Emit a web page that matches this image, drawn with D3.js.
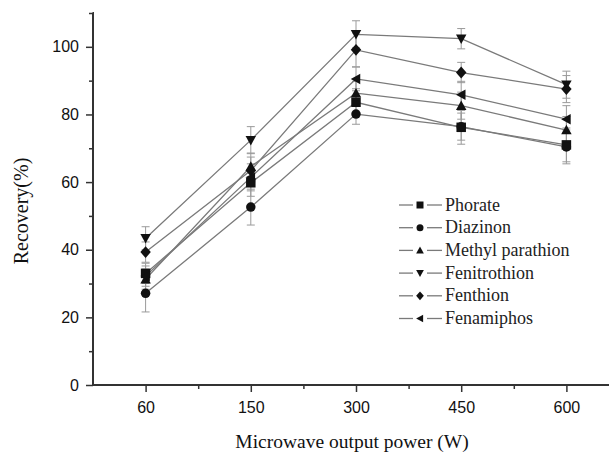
<!DOCTYPE html>
<html><head><meta charset="utf-8">
<script src="https://cdn.jsdelivr.net/npm/d3@7"></script>
<style>body{margin:0;background:#fff;} svg{display:block;}</style>
</head><body>
<svg id="c" width="609" height="452"></svg>
<script>
const categories = ["60", "150", "300", "450", "600"];
const seriesNames = ["Phorate", "Diazinon", "Methyl parathion", "Fenitrothion", "Fenthion", "Fenamiphos"];
const phorate = [33.0, 59.8, 83.6, 76.2, 71.0];
const diazinon = [27.1, 52.6, 80.1, 76.4, 70.4];
const methylParathion = [31.3, 64.6, 86.3, 82.6, 75.4];
const fenitrothion = [43.4, 72.4, 103.7, 102.4, 88.8];
const fenthion = [39.3, 63.4, 99.1, 92.4, 87.5];
const fenamiphos = [32.2, 61.4, 90.5, 85.8, 78.6];
const phorateErr = [3, 4, 4, 5, 5];
const diazinonErr = [5.5, 5.3, 3, 4, 5];
const methylParathionErr = [3, 4, 3.5, 4, 4];
const fenitrothionErr = [3.4, 4, 4, 3, 4];
const fenthionErr = [3, 4, 5, 3, 4];
const fenamiphosErr = [3, 4, 3.5, 4, 4];
const markers = ["square", "circle", "up", "down", "diamond", "left"];
const yTicks = [0, 20, 40, 60, 80, 100];

const values = [phorate, diazinon, methylParathion, fenitrothion, fenthion, fenamiphos];
const errs = [phorateErr, diazinonErr, methylParathionErr, fenitrothionErr, fenthionErr, fenamiphosErr];

const svg = d3.select("#c");
const x = d3.scaleLinear().domain([-0.5, 4.5]).range([93, 619]);
const y = d3.scaleLinear().domain([0, 110]).range([385, 13]);

function markerPath(type, s) {
  const h = s / 2;
  switch (type) {
    case "square": return `M${-h},${-h}H${h}V${h}H${-h}Z`;
    case "circle": return `M${h},0A${h},${h} 0 1,1 ${-h},0A${h},${h} 0 1,1 ${h},0Z`;
    case "up": return `M0,${-h*1.1}L${h*1.1},${h*0.9}L${-h*1.1},${h*0.9}Z`;
    case "down": return `M0,${h*1.1}L${h*1.1},${-h*0.9}L${-h*1.1},${-h*0.9}Z`;
    case "diamond": return `M0,${-h*1.25}L${h*1.1},0L0,${h*1.25}L${-h*1.1},0Z`;
    case "left": return `M${-h*1.1},0L${h*0.9},${-h*1.1}L${h*0.9},${h*1.1}Z`;
  }
}

// error bars
const eg = svg.append("g");
values.forEach((vals, si) => {
  vals.forEach((v, i) => {
    const e = errs[si][i];
    const cx = x(i);
    eg.append("line").attr("x1", cx).attr("x2", cx).attr("y1", y(v - e)).attr("y2", y(v + e))
      .attr("stroke", "#9a9a9a").attr("stroke-width", 1);
    [v - e, v + e].forEach(t => {
      eg.append("line").attr("x1", cx - 4).attr("x2", cx + 4).attr("y1", y(t)).attr("y2", y(t))
        .attr("stroke", "#9a9a9a").attr("stroke-width", 1);
    });
  });
});

// lines
const line = d3.line().x((d, i) => x(i)).y(d => y(d));
const lg = svg.append("g");
values.forEach(vals => {
  lg.append("path").attr("d", line(vals)).attr("fill", "none")
    .attr("stroke", "#7a7a7a").attr("stroke-width", 1.3);
});

// markers
const mg = svg.append("g");
values.forEach((vals, si) => {
  vals.forEach((v, i) => {
    mg.append("path").attr("d", markerPath(markers[si], 9.5))
      .attr("transform", `translate(${x(i)},${y(v)})`).attr("fill", "#111");
  });
});

// axes
const axisColor = "#333";
const yAxis = d3.axisLeft(y).tickValues(yTicks).tickSize(7).tickPadding(7).tickFormat(d3.format("d"));
const yg = svg.append("g").attr("transform", "translate(93,0)").call(yAxis);
yg.select(".domain").attr("d", `M-0.5,${y(110)}H0V${y(0)}`);
const yMinor = d3.axisLeft(y).tickValues([10, 30, 50, 70, 90, 110]).tickSize(4).tickFormat("");
const ymg = svg.append("g").attr("transform", "translate(93,0)").call(yMinor);
ymg.select(".domain").remove();

const xAxis = d3.axisBottom(x).tickValues([0, 1, 2, 3, 4]).tickSize(7).tickPadding(10).tickFormat(i => categories[i]);
const xg = svg.append("g").attr("transform", "translate(0,385)").call(xAxis);
xg.select(".domain").attr("d", `M93,0H609`);
const xMinor = d3.axisBottom(x).tickValues([0.5, 1.5, 2.5, 3.5]).tickSize(4).tickFormat("");
const xmg = svg.append("g").attr("transform", "translate(0,385)").call(xMinor);
xmg.select(".domain").remove();

[yg, ymg, xg, xmg].forEach(g => {
  g.selectAll(".domain").attr("stroke", axisColor).attr("stroke-width", 2);
  g.selectAll(".tick line").attr("stroke", axisColor).attr("stroke-width", 1.5);
  g.selectAll(".tick text").attr("fill", "#111").style("font-family", "'Liberation Sans', Arial, sans-serif").style("font-size", "16px");
});

// titles
svg.append("text").attr("x", 0).attr("y", 0)
  .attr("transform", "translate(28,211) rotate(-90)").attr("text-anchor", "middle")
  .style("font-family", "'Liberation Serif', 'Times New Roman', serif").style("font-size", "20px").attr("fill", "#111")
  .text("Recovery(%)");
svg.append("text").attr("x", 352).attr("y", 448).attr("text-anchor", "middle")
  .style("font-family", "'Liberation Serif', 'Times New Roman', serif").style("font-size", "19.5px").attr("fill", "#111")
  .text("Microwave output power (W)");

// legend
const leg = svg.append("g");
seriesNames.forEach((name, si) => {
  const ly = 205 + si * 22.7;
  leg.append("line").attr("x1", 399).attr("x2", 413).attr("y1", ly).attr("y2", ly)
    .attr("stroke", "#7a7a7a").attr("stroke-width", 1.3);
  leg.append("line").attr("x1", 427).attr("x2", 442).attr("y1", ly).attr("y2", ly)
    .attr("stroke", "#7a7a7a").attr("stroke-width", 1.3);
  leg.append("path").attr("d", markerPath(markers[si], 7)).attr("transform", `translate(420,${ly})`).attr("fill", "#111");
  leg.append("text").attr("x", 445).attr("y", ly + 5.5)
    .style("font-family", "'Liberation Serif', 'Times New Roman', serif").style("font-size", "18px").attr("fill", "#222")
    .text(name);
});
</script>
</body></html>
